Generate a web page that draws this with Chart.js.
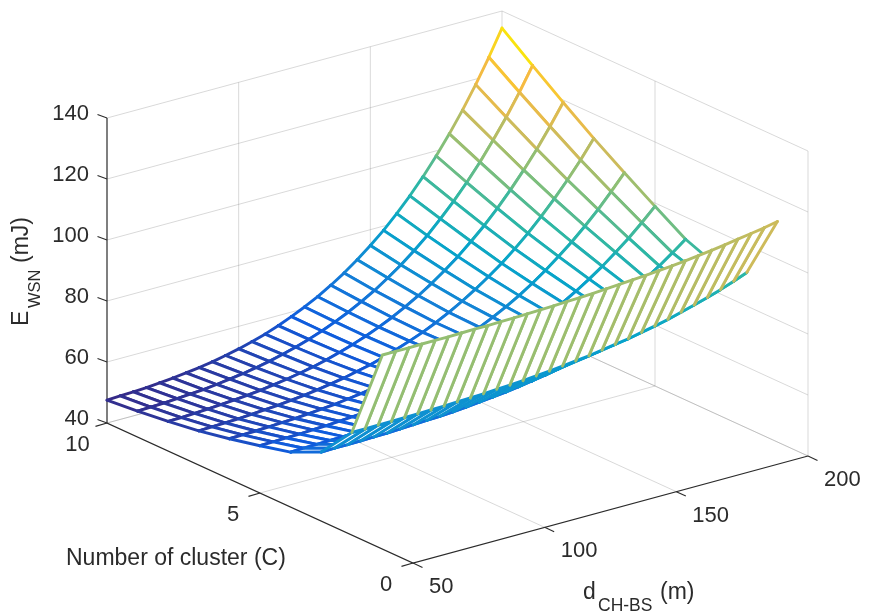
<!DOCTYPE html>
<html>
<head>
<meta charset="utf-8">
<style>html,body{margin:0;padding:0;background:#fff}canvas{display:block}</style>
<script src="https://cdn.jsdelivr.net/npm/chart.js@4"></script>
</head>
<body>
<canvas id="c" width="870" height="611"></canvas>
<script>
// ---- data ----
const dValues = [50,55,60,65,70,75,80,85,90,95,100,105,110,115,120,125,130,135,140,145,150,155,160,165,170,175,180,185,190,195,200];
const cValues = [10,9,8,7,6,5,4,3,2,1];
const eC10 = [47.5,47.7,47.9,48.1,48.5,48.9,49.4,50.0,50.7,51.6,52.6,53.8,55.1,56.7,58.5,60.5,62.7,65.3,68.1,71.3,74.8,78.6,82.9,87.6,92.7,98.3,104.4,111.0,118.2,126.0,134.4];
const eC9  = [48.5,48.6,48.8,49.1,49.4,49.7,50.2,50.8,51.4,52.2,53.1,54.2,55.4,56.8,58.4,60.2,62.2,64.5,67.0,69.9,73.0,76.5,80.3,84.6,89.2,94.2,99.7,105.7,112.1,119.1,126.7];
const eC8  = [49.7,49.8,50.0,50.2,50.5,50.8,51.2,51.7,52.3,53.0,53.8,54.7,55.8,57.1,58.5,60.1,61.9,63.9,66.2,68.7,71.5,74.6,78.0,81.8,85.8,90.3,95.2,100.5,106.2,112.5,119.2];
const eC7  = [51.2,51.3,51.5,51.6,51.9,52.2,52.5,53.0,53.5,54.1,54.8,55.6,56.6,57.6,58.9,60.3,61.9,63.6,65.6,67.8,70.3,73.0,76.0,79.2,82.8,86.7,91.0,95.7,100.7,106.1,112.0];
const eC6  = [53.2,53.3,53.4,53.6,53.8,54.0,54.3,54.7,55.1,55.7,56.3,57.0,57.8,58.7,59.8,61.0,62.3,63.9,65.6,67.5,69.6,71.9,74.4,77.2,80.3,83.7,87.3,91.3,95.6,100.3,105.3];
const eC5  = [55.5,55.6,55.7,55.8,56.0,56.2,56.5,56.8,57.1,57.6,58.1,58.6,59.3,60.1,61.0,62.0,63.1,64.4,65.8,67.4,69.1,71.1,73.2,75.5,78.1,80.9,83.9,87.3,90.8,94.7,98.9];
const eC4  = [58.0,58.1,58.2,58.3,58.4,58.6,58.8,59.0,59.3,59.6,60.0,60.5,61.1,61.7,62.4,63.2,64.1,65.1,66.2,67.5,68.9,70.5,72.2,74.0,76.1,78.3,80.8,83.4,86.3,89.4,92.7];
const eC3  = [62.6,62.7,62.7,62.8,62.9,63.0,63.2,63.4,63.6,63.8,64.1,64.5,64.9,65.4,65.9,66.5,67.2,67.9,68.8,69.7,70.8,71.9,73.2,74.6,76.2,77.8,79.7,81.7,83.8,86.1,88.7];
const eC2  = [73.6,73.6,73.7,73.7,73.8,73.9,74.0,74.1,74.3,74.4,74.6,74.9,75.1,75.4,75.8,76.2,76.7,77.2,77.7,78.4,79.1,79.8,80.7,81.6,82.6,83.8,85.0,86.3,87.7,89.3,91.0];
const eC1  = [103.6,103.6,103.6,103.7,103.7,103.7,103.8,103.9,103.9,104.0,104.1,104.2,104.4,104.5,104.7,104.9,105.1,105.4,105.7,106.0,106.3,106.7,107.1,107.6,108.1,108.7,109.3,110.0,110.7,111.4,112.3];
const eRows = [eC10,eC9,eC8,eC7,eC6,eC5,eC4,eC3,eC2,eC1];
const eTicks = [40,60,80,100,120,140];
const cTicks = [10,5,0];
const dTicks = [50,100,150,200];
const cLabel = 'Number of cluster (C)';

// ---- view of the box ----
const DMIN = 50, DMAX = 200, CMIN = 0, CMAX = 10, EMIN = 40, EMAX = 140;
function proj(d, c, e) {
  return {
    x: 107 + 395 * (d - DMIN) / (DMAX - DMIN) + 306 * (CMAX - c) / (CMAX - CMIN),
    y: 423 - 107 * (d - DMIN) / (DMAX - DMIN) + 140 * (CMAX - c) / (CMAX - CMIN) - 305 * (e - EMIN) / (EMAX - EMIN)
  };
}
// ---- parula-like colour map ----
const cmap = ['#352a87','#0f5cdd','#1481d6','#06a4ca','#2eb7a4','#87bf77','#d1bb59','#f8bb3f','#f9e30e'].map(h => [1,3,5].map(i => parseInt(h.substr(i,2),16)));
const eMinS = 47.5, eMaxS = 134.4;
function colorOf(e) {
  const t = Math.max(0, Math.min(1, (e - eMinS) / (eMaxS - eMinS))) * (cmap.length - 1);
  const i = Math.min(cmap.length - 2, Math.floor(t)), f = t - i;
  const a = cmap[i], b = cmap[i + 1];
  return `rgb(${a.map((v, k) => Math.round(v + (b[k] - v) * f)).join(',')})`;
}

const datasets = [];
const GRID = 'rgba(140,140,140,0.42)', AXIS = '#2b2b2b';
function addLine(points, color, width, dash) {
  datasets.push({ data: points, showLine: true, pointRadius: 0, borderColor: color, borderWidth: width, borderDash: dash || [], fill: false, borderCapStyle: 'butt' });
}
// walls and floor grid
for (const e of eTicks) {
  addLine([proj(DMIN, CMAX, e), proj(DMAX, CMAX, e), proj(DMAX, CMIN, e)], GRID, 0.8);
}
for (const d of dTicks.slice(1, 3)) {
  addLine([proj(d, CMIN, EMIN), proj(d, CMAX, EMIN), proj(d, CMAX, EMAX)], GRID, 0.8);
}
addLine([proj(DMIN, cTicks[1], EMIN), proj(DMAX, cTicks[1], EMIN), proj(DMAX, cTicks[1], EMAX)], GRID, 0.8);
addLine([proj(DMIN, CMAX, EMIN), proj(DMAX, CMAX, EMIN), proj(DMAX, CMIN, EMIN), proj(DMAX, CMIN, EMAX)], GRID, 0.8);
addLine([proj(DMAX, CMAX, EMIN), proj(DMAX, CMAX, EMAX)], GRID, 0.8);

// axes
addLine([proj(DMIN, CMAX, EMAX), proj(DMIN, CMAX, EMIN), proj(DMIN, CMIN, EMIN), proj(DMAX, CMIN, EMIN)], AXIS, 1.2);
const off = (p, dx, dy) => ({ x: p.x + dx, y: p.y + dy });
for (const e of eTicks) { const p = proj(DMIN, CMAX, e); addLine([p, off(p, -9.5, -3.5)], AXIS, 1.1); }
for (const c of cTicks) { const p = proj(DMIN, c, EMIN); addLine([p, off(p, -11.5, 3.4)], AXIS, 1.1); }
for (const d of dTicks) { const p = proj(d, CMIN, EMIN); addLine([p, off(p, 9.5, 4.4)], AXIS, 1.1); }

// the mesh, back to front: a white face, then its coloured edges
for (let j = 0; j < cValues.length - 1; j++) {
  for (let i = dValues.length - 2; i >= 0; i--) {
    const c0 = cValues[j], c1 = cValues[j + 1], d0 = dValues[i], d1 = dValues[i + 1];
    const a = eRows[j][i], b = eRows[j][i + 1], q = eRows[j + 1][i + 1], r = eRows[j + 1][i];
    const corners = [proj(d0, c0, a), proj(d1, c0, b), proj(d1, c1, q), proj(d0, c1, r), proj(d0, c0, a)];
    const segColors = [colorOf((a + b) / 2), colorOf(Math.max(b, q)), colorOf((q + r) / 2), colorOf(Math.max(r, a))];
    datasets.push({
      data: corners, showLine: true, pointRadius: 0, borderWidth: 0, borderColor: 'rgba(255,255,255,0)',
      backgroundColor: '#ffffff', fill: 'shape', tension: 0
    });
    datasets.push({
      data: corners, showLine: true, pointRadius: 0, borderWidth: 2.9, borderColor: segColors[0],
      fill: false, tension: 0, borderCapStyle: 'round', borderJoinStyle: 'round',
      segment: { borderColor: ctx => segColors[ctx.p0DataIndex] }
    });
  }
}
datasets.forEach((ds, k) => { ds.order = datasets.length - k; });

const TEXT = '#2b2b2b', FONT = '"Liberation Sans", Arial, sans-serif';
const textPlugin = {
  id: 'boxText',
  afterDatasetsDraw(chart) {
    const { ctx, scales: { x, y } } = chart;
    const put = (s, p, dx, dy, align) => {
      ctx.font = `22px ${FONT}`;
      ctx.textAlign = align; ctx.textBaseline = 'middle'; ctx.fillStyle = TEXT;
      ctx.fillText(s, x.getPixelForValue(p.x) + dx, y.getPixelForValue(p.y) + dy);
    };
    ctx.save();
    for (const e of eTicks) put(String(e), proj(DMIN, CMAX, e), -18, -4, 'right');
    for (const c of cTicks) put(String(c), proj(DMIN, c, EMIN), c === CMAX ? -29.5 : -27, 22, 'center');
    for (const d of dTicks) put(String(d), proj(d, CMIN, EMIN), 16, 24, 'left');
    ctx.font = `23px ${FONT}`; ctx.textAlign = 'left'; ctx.textBaseline = 'middle'; ctx.fillStyle = TEXT;
    ctx.fillText(cLabel, 66, 559);
    ctx.fillText('d', 583, 593);
    ctx.font = `17.5px ${FONT}`; ctx.fillText('CH-BS', 598, 606);
    ctx.font = `23px ${FONT}`; ctx.fillText('(m)', 660, 593);
    ctx.translate(22, 326); ctx.rotate(-Math.PI / 2);
    ctx.fillText('E', 0, 0);
    ctx.font = `16.5px ${FONT}`; ctx.fillText('WSN', 18, 13);
    ctx.font = `23px ${FONT}`; ctx.fillText('(mJ)', 63, 0);
    ctx.restore();
  }
};

new Chart(document.getElementById('c'), {
  type: 'scatter',
  data: { datasets },
  plugins: [textPlugin],
  options: {
    responsive: false, animation: false, events: [],
    layout: { padding: 0 },
    scales: {
      x: { type: 'linear', min: 0, max: 870, display: false },
      y: { type: 'linear', min: 0, max: 611, reverse: true, display: false }
    },
    plugins: { legend: { display: false }, tooltip: { enabled: false }, title: { display: false }, filler: { drawTime: 'beforeDatasetDraw', propagate: false } }
  }
});
</script>
</body>
</html>
